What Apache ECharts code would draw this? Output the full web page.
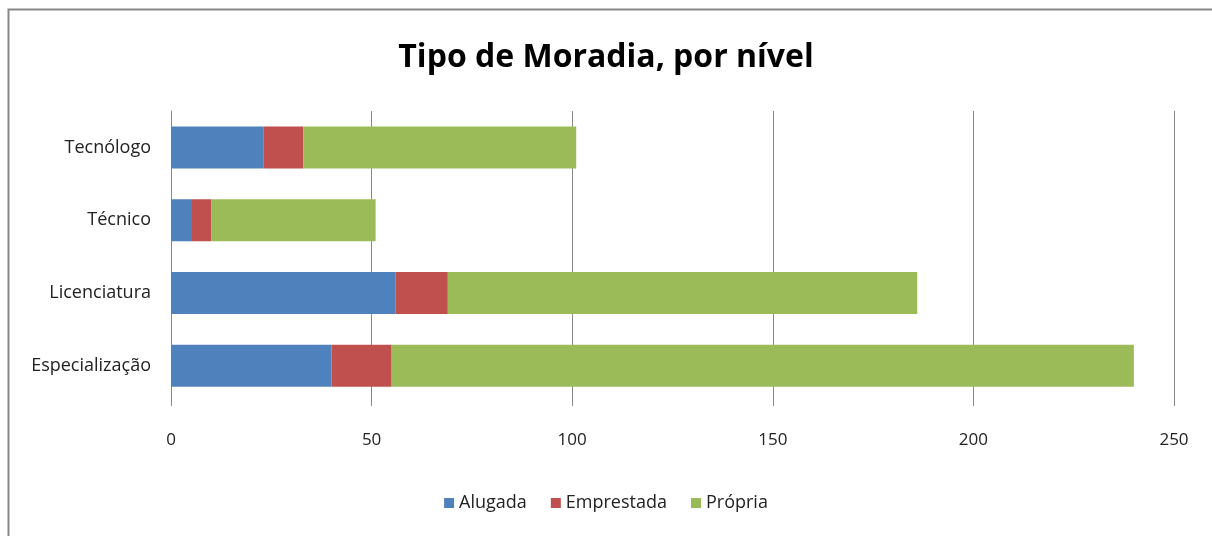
<!DOCTYPE html>
<html>
<head>
<meta charset="utf-8">
<script src="https://cdn.jsdelivr.net/npm/echarts@6/dist/echarts.min.js"></script>
<style>
html,body{margin:0;padding:0;background:#fff;}
#chart{width:1212px;height:536px;}
</style>
</head>
<body>
<div id="chart"></div>
<script>
const categories = ['Especialização', 'Licenciatura', 'Técnico', 'Tecnólogo'];
const alugada = [40, 56, 5, 23];
const emprestada = [15, 13, 5, 10];
const propria = [185, 117, 41, 68];
const xTicks = [0, 50, 100, 150, 200, 250];

const FONT = '"Open Sans", "Noto Sans", sans-serif';
const chart = echarts.init(document.getElementById('chart'), null, {renderer: 'canvas'});
chart.setOption({
  animation: false,
  backgroundColor: '#fff',
  graphic: [{
    type: 'rect', left: 6, top: 7, silent: true, z: 100,
    shape: {width: 1400, height: 700},
    style: {fill: 'none', stroke: '#878787', lineWidth: 2}
  }],
  title: {
    text: 'Tipo de Moradia, por nível',
    left: 'center', top: 37,
    textStyle: {fontFamily: FONT, fontSize: 32, fontWeight: 'bold', color: '#000'}
  },
  legend: {
    bottom: 19, left: 'center',
    itemWidth: 10, itemHeight: 10, itemGap: 24,
    icon: 'rect',
    textStyle: {fontFamily: FONT, fontSize: 18, color: '#222'}
  },
  grid: {left: 171, right: 38, top: 111, bottom: 134},
  xAxis: {
    type: 'value', min: xTicks[0], max: xTicks[xTicks.length - 1], interval: 50,
    axisLine: {show: false},
    axisTick: {show: true, length: 4, lineStyle: {color: '#888'}},
    splitLine: {show: true, lineStyle: {color: '#888', width: 1}},
    axisLabel: {fontFamily: FONT, fontSize: 17, color: '#222', margin: 30}
  },
  yAxis: {
    type: 'category', data: categories,
    axisLine: {show: true, lineStyle: {color: '#888'}},
    axisTick: {show: false},
    axisLabel: {fontFamily: FONT, fontSize: 18, color: '#222', margin: 20}
  },
  series: [
    {name: 'Alugada', type: 'bar', stack: 't', data: alugada, barWidth: 42, itemStyle: {color: '#4F81BD'}},
    {name: 'Emprestada', type: 'bar', stack: 't', data: emprestada, barWidth: 42, itemStyle: {color: '#C0504D'}},
    {name: 'Própria', type: 'bar', stack: 't', data: propria, barWidth: 42, itemStyle: {color: '#9BBB59'}}
  ]
});
</script>
</body>
</html>
